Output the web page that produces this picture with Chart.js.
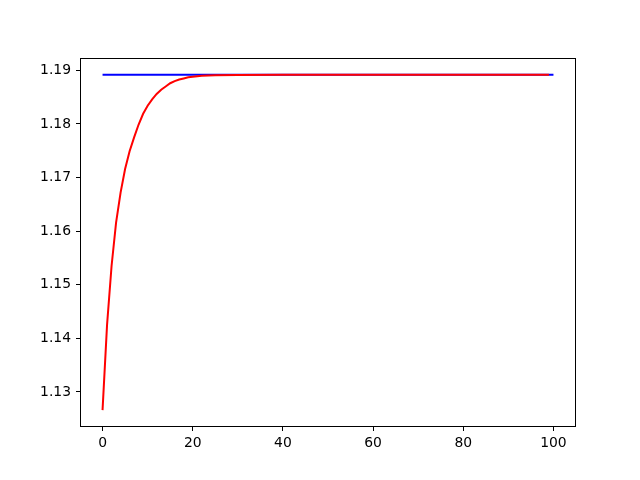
<!DOCTYPE html>
<html>
<head>
<meta charset="utf-8">
<script src="https://cdn.jsdelivr.net/npm/chart.js@4"></script>
<style>
  body { margin: 0; background: #fff; }
  canvas { display: block; }
</style>
</head>
<body>
<canvas id="chart" width="640" height="480"></canvas>
<script>
// red curve
const redX = [0, 1, 2, 3, 4, 5, 6, 7, 8, 9, 10, 11, 12, 13, 14, 15, 16, 17, 18, 19, 20, 22, 25, 30, 40, 60, 80, 99];
const redY = [1.1266, 1.1425, 1.1535, 1.1616, 1.1672, 1.1716, 1.1749, 1.1775, 1.1799, 1.1819,
              1.1834, 1.1846, 1.1856, 1.1864, 1.1870, 1.1876, 1.1880, 1.1883, 1.1885, 1.1887,
              1.1888, 1.1890, 1.18908, 1.18914, 1.18917, 1.18918, 1.18918, 1.18918];
// blue flat line
const blueX = [0, 100];
const blueY = [1.18918, 1.18918];

const xTicks = [0, 20, 40, 60, 80, 100];
const yTicks = [1.13, 1.14, 1.15, 1.16, 1.17, 1.18, 1.19];

const toPts = (xs, ys) => xs.map((x, i) => ({ x, y: ys[i] }));

// matplotlib style box round the plot area
const frame = {
    id: 'frame',
    afterDraw(chart) {
        const { ctx, chartArea: a } = chart;
        ctx.save();
        ctx.strokeStyle = '#000';
        ctx.lineWidth = 1;
        ctx.strokeRect(a.left + 0.5, a.top + 0.5, a.right - a.left - 1, a.bottom - a.top - 1);
        ctx.restore();
    }
};

const tickFont = { family: 'DejaVu Sans', size: 13.9 };

new Chart(document.getElementById('chart').getContext('2d'), {
    type: 'line',
    data: {
        datasets: [
            { data: toPts(redX, redY), borderColor: '#ff0000', borderWidth: 2, pointRadius: 0, fill: false, tension: 0 },
            { data: toPts(blueX, blueY), borderColor: '#0000ff', borderWidth: 2, pointRadius: 0, fill: false, tension: 0 }
        ]
    },
    options: {
        responsive: false,
        animation: false,
        layout: { padding: { top: 58, right: 64, left: 0, bottom: 0 } },
        plugins: { legend: { display: false }, tooltip: { enabled: false } },
        scales: {
            x: {
                type: 'linear',
                min: -5,
                max: 105,
                afterFit: s => { s.height = 53; },
                afterBuildTicks: s => { s.ticks = xTicks.map(v => ({ value: v })); },
                grid: { drawOnChartArea: false, drawTicks: true, tickLength: 4, color: '#000' },
                border: { display: false },
                ticks: { color: '#000', font: tickFont, padding: 4, maxRotation: 0, callback: v => String(v) }
            },
            y: {
                type: 'linear',
                min: 1.12345,
                max: 1.19231,
                afterFit: s => { s.width = 80; },
                afterBuildTicks: s => { s.ticks = yTicks.map(v => ({ value: v })); },
                grid: { drawOnChartArea: false, drawTicks: true, tickLength: 4, color: '#000' },
                border: { display: false },
                ticks: { color: '#000', font: tickFont, padding: 5, callback: v => v.toFixed(2) }
            }
        }
    },
    plugins: [frame]
});
</script>
</body>
</html>
